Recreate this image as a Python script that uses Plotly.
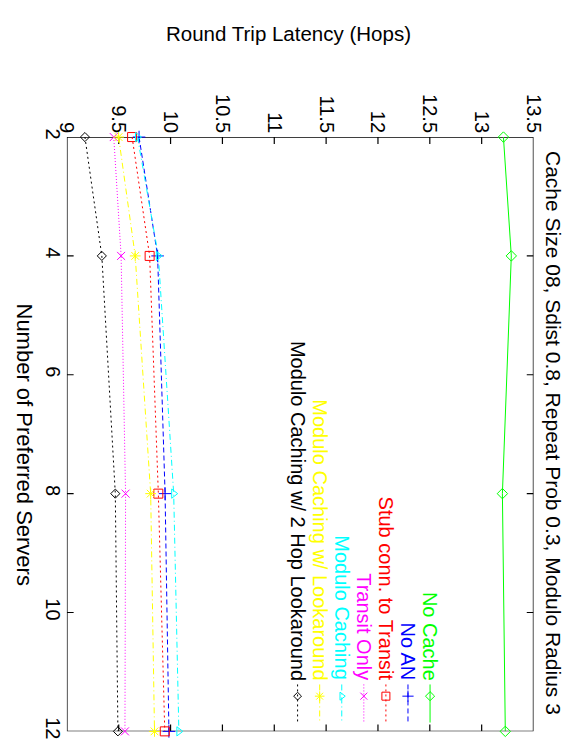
import plotly.graph_objects as go

# ---- data ----
servers = [2, 4, 8, 12]
series_names = ["No Cache", "No AN", "Stub conn. to Transit", "Transit Only",
                "Modulo Caching", "Modulo Caching w/ Lookaround",
                "Modulo Caching w/ 2 Hop Lookaround"]
no_cache = [13.21, 13.286, 13.20, 13.228]
no_an = [9.696, 9.875, 9.947, 9.984]
stub_transit = [9.629, 9.798, 9.882, 9.944]
transit_only = [9.452, 9.523, 9.566, 9.56]
modulo = [9.681, 9.882, 10.03, 10.08]
modulo_look = [9.499, 9.659, 9.808, 9.845]
modulo_2hop = [9.174, 9.337, 9.467, 9.492]
latency_ticks = [9, 9.5, 10, 10.5, 11, 11.5, 12, 12.5, 13, 13.5]
server_ticks = [2, 4, 6, 8, 10, 12]

series = [no_cache, no_an, stub_transit, transit_only, modulo, modulo_look, modulo_2hop]
colors = ["#00ff00", "#0000ff", "#ff0000", "#ff00ff", "#00ffff", "#ffff00", "#000000"]
dashes = ["solid", "5px,3px", "2px,3px", "1px,2px", "6px,3px,1px,3px", "6px,3px,1px,3px", "2px,3px"]
symbols = ["diamond-open", "cross-thin-open", "square-open", "x-thin-open",
           "triangle-right-open", "asterisk-open", "diamond-open"]
sizes = [8, 9, 9, 8, 8, 9, 7]

W, H = 585, 755
L, R, T, B = 59, 543, 131, 739
X_RANGE = [9, 13.5]
Y_RANGE = [12, 2]
TICK_PX = 7
FONT = "Liberation Sans, Arial, Helvetica, sans-serif"


def px_to_x(px):
    return X_RANGE[0] + (px - L) * (X_RANGE[1] - X_RANGE[0]) / (R - L)


def px_to_y(py):
    return Y_RANGE[1] + (py - T) * (Y_RANGE[0] - Y_RANGE[1]) / (B - T)


fig = go.Figure()

# ---- frame and inside ticks (gnuplot-style border, mirrored ticks) ----
x0, x1 = min(X_RANGE), max(X_RANGE)
y0, y1 = min(Y_RANGE), max(Y_RANGE)
tx = TICK_PX * (x1 - x0) / (R - L)
ty = TICK_PX * (y1 - y0) / (B - T)
fx, fy = [], []
for v in latency_ticks[1:-1]:
    fx += [v, v, None, v, v, None]
    fy += [y0, y0 + ty, None, y1, y1 - ty, None]
for v in server_ticks[1:-1]:
    fx += [x0, x0 + tx, None, x1, x1 - tx, None]
    fy += [v, v, None, v, v, None]
fig.add_trace(go.Scatter(x=fx, y=fy, mode="lines", line=dict(color="black", width=1.2),
                         showlegend=False, hoverinfo="skip", cliponaxis=False))
fig.add_trace(go.Scatter(x=[x0, x1, x1, x0, x0], y=[y0, y0, y1, y1, y0], mode="lines",
                         line=dict(color="black", width=1.4), showlegend=False,
                         hoverinfo="skip", cliponaxis=False))

for name, vals, c, d, s, sz in zip(series_names, series, colors, dashes, symbols, sizes):
    fig.add_trace(go.Scatter(
        x=vals, y=servers, mode="lines+markers", name=name,
        line=dict(color=c, width=1, dash=d),
        marker=dict(symbol=s, size=sz, color=c, line=dict(color=c, width=1)),
        showlegend=False, cliponaxis=False))

# ---- legend (rotated like the rest of the figure, drawn manually) ----
leg_x0, leg_dx = 435.7, -22.9
leg_line_top, leg_line_bot, leg_mark, leg_text_bot = 691, 730, 703, 689
for i, (name, c, d, s, sz) in enumerate(zip(series_names, colors, dashes, symbols, sizes)):
    xp = leg_x0 + i * leg_dx
    xv = px_to_x(xp)
    fig.add_trace(go.Scatter(
        x=[xv, xv], y=[px_to_y(leg_line_top), px_to_y(leg_line_bot)],
        mode="lines", showlegend=False, hoverinfo="skip",
        line=dict(color=c, width=1, dash=d)))
    fig.add_trace(go.Scatter(
        x=[xv], y=[px_to_y(leg_mark)], mode="markers", showlegend=False, hoverinfo="skip",
        marker=dict(symbol=s, size=sz - 1, color=c, line=dict(color=c, width=1))))
    fig.add_annotation(text=name, x=xp / W, y=1 - leg_text_bot / H, xref="paper", yref="paper",
                       xanchor="center", yanchor="bottom", textangle=90, showarrow=False,
                       font=dict(family=FONT, size=20, color=c))

axis_common = dict(showline=False, ticks="", showgrid=False, zeroline=False, tickangle=90,
                   tickfont=dict(family=FONT, size=20, color="black"))

fig.update_layout(
    width=W, height=H, margin=dict(l=0, r=0, t=0, b=0),
    paper_bgcolor="white", plot_bgcolor="white",
    xaxis=dict(domain=[L / W, R / W], range=X_RANGE, tickvals=latency_ticks, side="top",
               **axis_common),
    yaxis=dict(domain=[1 - B / H, 1 - T / H], range=Y_RANGE, tickvals=server_ticks,
               **axis_common),
)

fig.add_annotation(text="Round Trip Latency (Hops)", x=288.5 / W, y=1 - 25 / H,
                   xref="paper", yref="paper", xanchor="center", yanchor="middle",
                   showarrow=False, font=dict(family=FONT, size=20.5, color="black"))
fig.add_annotation(text="Number of Preferred Servers", x=15 / W, y=1 - 446 / H,
                   xref="paper", yref="paper", xanchor="center", yanchor="middle", textangle=90,
                   showarrow=False, font=dict(family=FONT, size=22, color="black"))
fig.add_annotation(text="Cache Size 08, Sdist 0.8, Repeat Prob 0.3, Modulo Radius 3",
                   x=563 / W, y=1 - 143 / H, xref="paper", yref="paper",
                   xanchor="center", yanchor="top", textangle=90,
                   showarrow=False, font=dict(family=FONT, size=21, color="black"))

fig.write_html("out.html")
